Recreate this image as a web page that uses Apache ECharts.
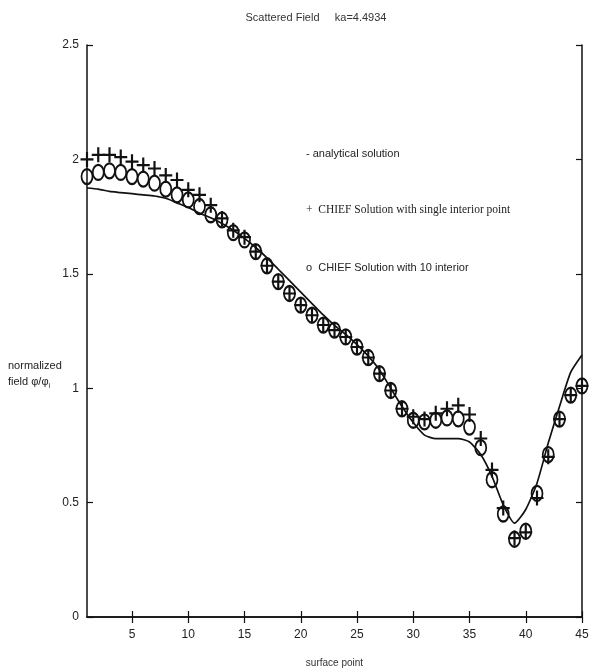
<!DOCTYPE html>
<html>
<head>
    <meta charset="utf-8">
    <title>Scattered Field ka=4.4934</title>
    <script src="https://cdn.jsdelivr.net/npm/echarts@6/dist/echarts.min.js"></script>
    <style>
        html, body { margin: 0; padding: 0; background: #fff; }
        #main { width: 590px; height: 668px; }
    </style>
</head>
<body>
<div id="main"></div>
<script>
    // surface point index
    var points = [1, 2, 3, 4, 5, 6, 7, 8, 9, 10, 11, 12, 13, 14, 15, 16, 17, 18, 19, 20, 21, 22, 23,
        24, 25, 26, 27, 28, 29, 30, 31, 32, 33, 34, 35, 36, 37, 38, 39, 40, 41, 42, 43, 44, 45];

    // analytical solution (solid line)
    var analytical = [1.875, 1.87, 1.86, 1.855, 1.85, 1.845, 1.84, 1.83, 1.81, 1.79, 1.765, 1.745, 1.72,
        1.69, 1.655, 1.615, 1.57, 1.52, 1.47, 1.42, 1.37, 1.32, 1.275, 1.235, 1.19, 1.14, 1.08, 1.0,
        0.92, 0.85, 0.795, 0.78, 0.78, 0.78, 0.765, 0.71, 0.615, 0.49, 0.41, 0.47, 0.585, 0.76, 0.92,
        1.07, 1.145];

    // CHIEF, single interior point (+)
    var chiefSingle = [2.0, 2.02, 2.02, 2.01, 1.99, 1.975, 1.96, 1.93, 1.91, 1.867, 1.845, 1.80, 1.742,
        1.69, 1.66, 1.597, 1.535, 1.466, 1.414, 1.363, 1.319, 1.276, 1.254, 1.224, 1.18, 1.134, 1.064,
        0.99, 0.91, 0.875, 0.865, 0.89, 0.91, 0.925, 0.885, 0.78, 0.643, 0.476, 0.345, 0.37, 0.52, 0.70,
        0.865, 0.97, 1.01];

    // CHIEF, 10 interior points (o)
    var chiefTen = [1.925, 1.943, 1.95, 1.943, 1.925, 1.914, 1.896, 1.87, 1.845, 1.823, 1.794, 1.758,
        1.736, 1.68, 1.648, 1.597, 1.535, 1.466, 1.414, 1.363, 1.319, 1.276, 1.254, 1.224, 1.18, 1.134,
        1.064, 0.99, 0.91, 0.86, 0.853, 0.86, 0.87, 0.866, 0.83, 0.74, 0.60, 0.45, 0.34, 0.375, 0.54,
        0.71, 0.865, 0.97, 1.01];

    var xTicks = [5, 10, 15, 20, 25, 30, 35, 40, 45];

    function pairs(ys) {
        return points.map(function (p, i) { return [p, ys[i]]; });
    }

    var plus = 'path://M-1,-7h2v14h-2zM-6,-1h12v2h-12z';
    var txt = '#222';

    var myChart = echarts.init(document.getElementById('main'));
    myChart.setOption({
        animation: false,
        backgroundColor: '#fff',
        title: {
            text: 'Scattered Field     ka=4.4934',
            left: 311,
            top: 7,
            textAlign: 'center',
            textStyle: { fontFamily: 'Liberation Sans', fontSize: 11, fontWeight: 'normal', color: '#333' }
        },
        grid: { left: 87, right: 8, top: 45, bottom: 51, outerBoundsMode: 'none', containLabel: false },
        xAxis: [{
            type: 'value', min: 1, max: 45, position: 'bottom',
            name: 'surface point', nameLocation: 'middle', nameGap: 41,
            nameTextStyle: { fontFamily: 'Liberation Sans', fontSize: 10, color: '#333' },
            axisLine: { lineStyle: { color: '#111', width: 1.5 } },
            axisTick: { inside: true, length: 6, customValues: xTicks, lineStyle: { color: '#111', width: 1.2 } },
            axisLabel: { customValues: xTicks, margin: 12, fontFamily: 'Liberation Sans', fontSize: 12, color: txt },
            splitLine: { show: false }
        }, {
            type: 'value', min: 1, max: 45, position: 'top',
            axisLine: { lineStyle: { color: '#111', width: 1.5 } },
            axisTick: { inside: true, length: 6, customValues: xTicks, lineStyle: { color: '#111', width: 1.2 } },
            axisLabel: { show: false },
            splitLine: { show: false }
        }],
        yAxis: [{
            type: 'value', min: 0, max: 2.5, interval: 0.5, position: 'left',
            axisLine: { show: true, lineStyle: { color: '#111', width: 1.5 } },
            axisTick: { show: true, inside: true, length: 6, lineStyle: { color: '#111', width: 1.2 } },
            axisLabel: { margin: 8, fontFamily: 'Liberation Sans', fontSize: 12, color: txt },
            splitLine: { show: false }
        }, {
            type: 'value', min: 0, max: 2.5, interval: 0.5, position: 'right',
            axisLine: { show: true, lineStyle: { color: '#111', width: 1.5 } },
            axisTick: { show: true, inside: true, length: 6, lineStyle: { color: '#111', width: 1.2 } },
            axisLabel: { show: false },
            splitLine: { show: false }
        }],
        graphic: [{
            type: 'text', left: 8, top: 358,
            style: {
                text: 'normalized\nfield φ/φ{s|i}',
                rich: { s: { fontSize: 7, verticalAlign: 'bottom', padding: [6, 0, 0, 0] } },
                fontFamily: 'Liberation Sans', fontSize: 11, lineHeight: 16, fill: '#222'
            }
        }, {
            type: 'text', left: 306, top: 148,
            style: { text: '- analytical solution', fontFamily: 'Liberation Sans', fontSize: 11, fill: '#222' }
        }, {
            type: 'text', left: 306, top: 204,
            style: { text: '+  CHIEF Solution with single interior point', fontFamily: 'Liberation Serif', fontSize: 11.5, fill: '#222' }
        }, {
            type: 'text', left: 306, top: 262,
            style: { text: 'o  CHIEF Solution with 10 interior', fontFamily: 'Liberation Sans', fontSize: 11, fill: '#222' }
        }],
        series: [{
            name: 'analytical solution',
            type: 'line',
            data: pairs(analytical),
            showSymbol: false,
            smooth: 0.2,
            lineStyle: { color: '#111', width: 1.7 },
            z: 2
        }, {
            name: 'CHIEF Solution with single interior point',
            type: 'scatter',
            data: pairs(chiefSingle),
            symbol: plus,
            symbolSize: [13, 15],
            itemStyle: { color: '#111', opacity: 1 },
            z: 3
        }, {
            name: 'CHIEF Solution with 10 interior',
            type: 'scatter',
            data: pairs(chiefTen),
            symbol: 'circle',
            symbolSize: [11, 15],
            itemStyle: { color: 'rgba(0,0,0,0)', borderColor: '#111', borderWidth: 2, opacity: 1 },
            z: 4
        }]
    });
</script>
</body>
</html>
